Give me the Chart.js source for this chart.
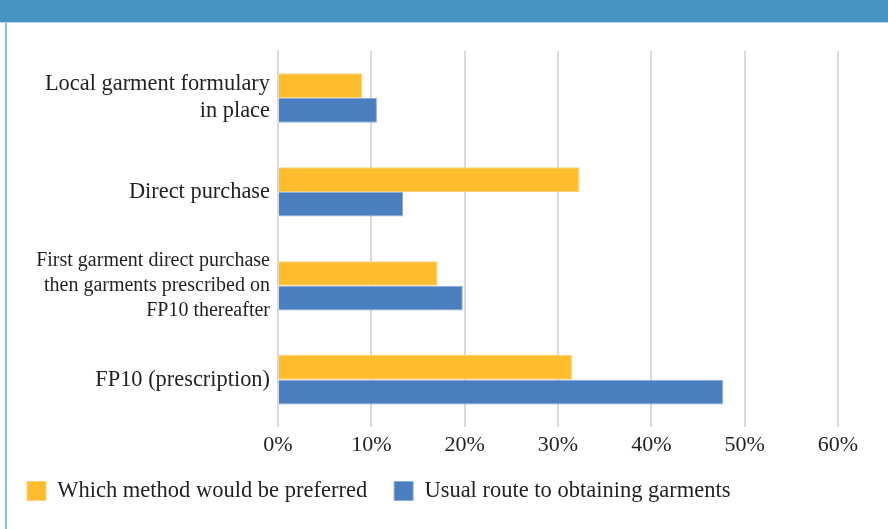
<!DOCTYPE html>
<html>
<head>
<meta charset="utf-8">
<script src="https://cdn.jsdelivr.net/npm/chart.js@4"></script>
<style>
    html, body { margin: 0; padding: 0; background: #fff; }
    #wrap { position: relative; width: 888px; height: 529px; overflow: hidden; }
    #band { position: absolute; left: 0; top: 0; width: 888px; height: 22px; background: #4794c3; border-bottom: 1px solid #b5d5ea; }
    #edge { position: absolute; left: 5px; top: 23px; width: 2px; height: 506px; background: #86bfe2; }
    #chart-box { position: absolute; left: 0; top: 0; width: 888px; height: 529px; }
</style>
</head>
<body>
<div id="wrap">
    <div id="chart-box"><canvas id="garment-chart"></canvas></div>
    <div id="band"></div>
    <div id="edge"></div>
</div>
<script>
const categories = [
    ['Local garment formulary', 'in place'],
    'Direct purchase',
    ['First garment direct purchase', 'then garments prescribed on', 'FP10 thereafter'],
    'FP10 (prescription)'
];
const preferredValues = [9, 32.3, 17.1, 31.5];
const usualValues = [10.6, 13.4, 19.8, 47.7];
const tickMax = 60;
const tickStep = 10;

const serif = "'Liberation Serif', 'DejaVu Serif', serif";

new Chart(document.getElementById('garment-chart').getContext('2d'), {
    type: 'bar',
    data: {
        labels: categories,
        datasets: [{
            label: 'Which method would be preferred',
            data: preferredValues,
            backgroundColor: '#fdbd2c',
            borderColor: '#fdd27a',
            borderWidth: 1
        }, {
            label: 'Usual route to obtaining garments',
            data: usualValues,
            backgroundColor: '#4a7ebf',
            borderColor: '#8aaedb',
            borderWidth: 1
        }]
    },
    options: {
        indexAxis: 'y',
        responsive: true,
        maintainAspectRatio: false,
        animation: false,
        categoryPercentage: 0.525,
        barPercentage: 1.0,
        layout: {
            padding: { top: 51, right: 50, bottom: 16.75, left: 0 }
        },
        plugins: {
            legend: {
                position: 'bottom',
                align: 'start',
                labels: {
                    boxWidth: 19,
                    boxHeight: 19,
                    padding: 27,
                    color: '#231f20',
                    font: { family: serif, size: 22.5 }
                }
            },
            tooltip: { enabled: false }
        },
        scales: {
            x: {
                min: 0,
                max: tickMax,
                grid: {
                    color: '#d9d9d9',
                    lineWidth: 2,
                    drawTicks: false
                },
                border: { display: false },
                // keep the axis box short so the legend sits close under the labels
                afterFit: (scale) => { scale.height = 26; },
                ticks: {
                    stepSize: tickStep,
                    padding: 9.5,
                    color: '#231f20',
                    font: { family: serif, size: 22, lineHeight: 0.8 },
                    callback: (value) => value + '%'
                }
            },
            y: {
                grid: { display: false, drawTicks: false },
                border: { color: '#d9d9d9', width: 2 },
                afterFit: (scale) => { scale.width = 278; },
                ticks: {
                    padding: 8,
                    color: '#231f20',
                    font: (ctx) => ctx.index === 2
                        ? { family: serif, size: 20, lineHeight: 1.27 }
                        : { family: serif, size: 22.4, lineHeight: 1.2 }
                }
            }
        }
    }
});
</script>
</body>
</html>
